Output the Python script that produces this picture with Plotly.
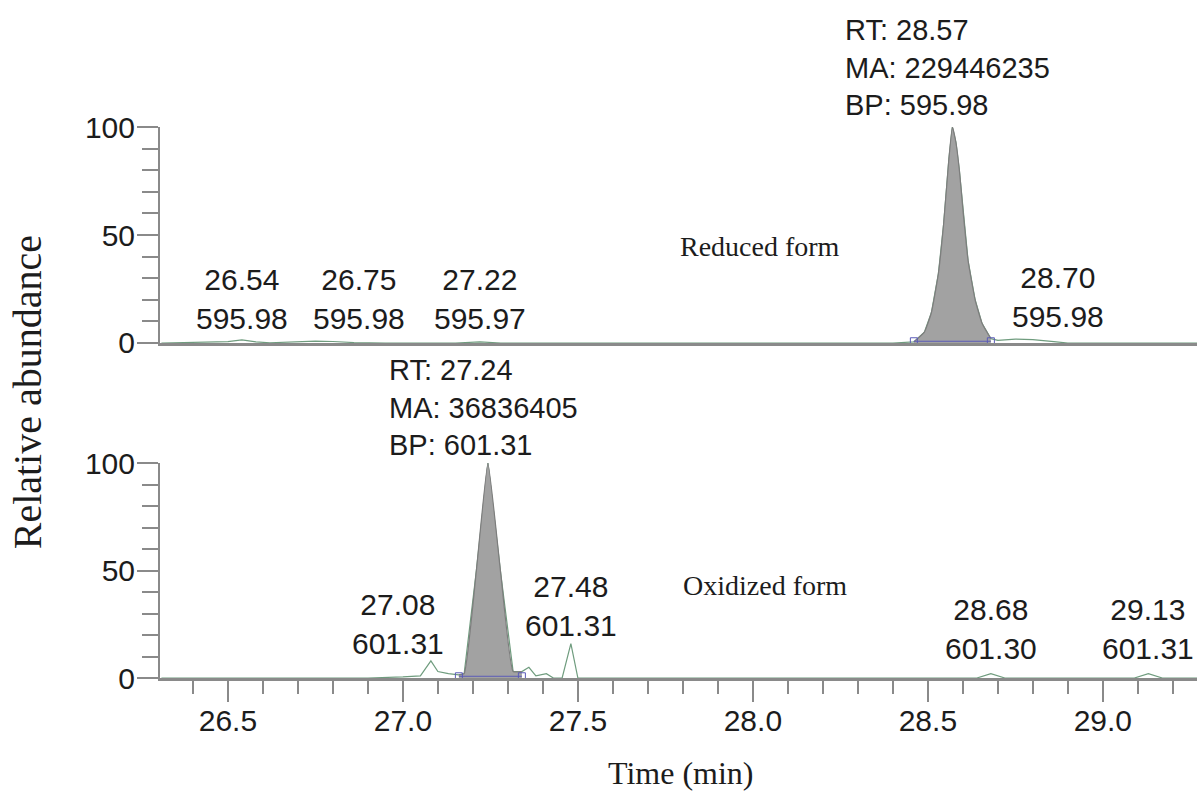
import plotly.graph_objects as go
from plotly.subplots import make_subplots

# ---------------- data ----------------
# Reduced form chromatogram (upper panel)
red_time = [26.31, 26.45, 26.50, 26.54, 26.58, 26.62, 26.70, 26.75, 26.80, 26.86, 26.95,
            27.15, 27.22, 27.28, 27.60, 28.00, 28.40, 28.46, 28.49, 28.51, 28.53, 28.545,
            28.56, 28.57, 28.58, 28.59, 28.60, 28.615, 28.635, 28.655, 28.68, 28.70, 28.75,
            28.80, 28.86, 28.90, 29.27]
red_abund = [0, 0.2, 0.6, 1.4, 0.5, 0.1, 0.4, 0.9, 0.7, 0.2, 0,
             0, 0.5, 0, 0, 0, 0, 0.5, 5, 14, 32, 55,
             85, 100, 93, 80, 62, 38, 20, 9, 2, 1.2, 1.8,
             1.6, 0.6, 0, 0]
red_peak_window = [28.46, 28.68]

# Oxidized form chromatogram (lower panel)
ox_time = [26.31, 26.90, 27.00, 27.05, 27.08, 27.10, 27.13, 27.16, 27.175, 27.21, 27.243,
           27.28, 27.315, 27.34, 27.36, 27.38, 27.41, 27.43, 27.455, 27.48, 27.50, 27.55,
           28.64, 28.68, 28.72, 29.09, 29.13, 29.17, 29.27]
ox_abund = [0, 0, 0.5, 1, 8, 3, 2, 1.5, 2, 50, 100,
            48, 3, 3, 5, 1, 2, 0, 0, 16, 0, 0,
            0, 2, 0, 0, 2, 0, 0]
ox_peak_window = [27.16, 27.34]

# peak labels (retention time / base peak m/z)
red_label_rt = [26.54, 26.75, 27.22, 28.70]
red_label_bp = ["595.98", "595.98", "595.97", "595.98"]
ox_label_rt = [27.08, 27.48, 28.68, 29.13]
ox_label_bp = ["601.31", "601.31", "601.30", "601.31"]

red_main = {"rt": 28.57, "ma": "229446235", "bp": "595.98"}
ox_main = {"rt": 27.24, "ma": "36836405", "bp": "601.31"}

x_tick_start, x_tick_step = 26.5, 0.5
y_ticks = [0, 50, 100]

# ---------------- styling ----------------
SANS = "Liberation Sans, Arial, sans-serif"
SERIF = "Liberation Serif, Times New Roman, serif"
AXIS_GRAY = "#8a8a8a"
TEXT = "#1c1c1c"
TRACE = "#6f9c7e"
FILL = "#a2a2a2"
FILL_EDGE = "#7d7d7d"
BLUE = "#5b5bb8"
XRANGE = [26.306, 29.269]

# label offsets (x in minutes, y shift in px) for the small labels
red_label_dx = [0.0, 0.124, 0.0, 0.171]
red_label_dy = [6, 6, 6, 8]
ox_label_dx = [-0.094, 0.0, 0.0, 0.0]
ox_label_dy = [16, 34, 11, 11]

fig = make_subplots(rows=2, cols=1)


def add_panel(row, t, a, window):
    fig.add_trace(go.Scatter(x=t, y=a, mode="lines",
                             line=dict(color=TRACE, width=1.2),
                             hoverinfo="skip", showlegend=False), row=row, col=1)
    pk_t = [ti for ti in t if window[0] <= ti <= window[1]]
    pk_a = [ai for ti, ai in zip(t, a) if window[0] <= ti <= window[1]]
    fig.add_trace(go.Scatter(x=pk_t, y=pk_a, mode="lines", fill="tozeroy",
                             fillcolor=FILL, line=dict(color=FILL_EDGE, width=1.2, shape="spline", smoothing=0.4),
                             hoverinfo="skip", showlegend=False, cliponaxis=False),
                  row=row, col=1)
    fig.add_trace(go.Scatter(x=window, y=[0.8, 0.8], mode="lines+markers",
                             line=dict(color=BLUE, width=1),
                             marker=dict(symbol="square-open", size=7,
                                         color=BLUE, line=dict(width=1)),
                             hoverinfo="skip", showlegend=False),
                  row=row, col=1)


add_panel(1, red_time, red_abund, red_peak_window)
add_panel(2, ox_time, ox_abund, ox_peak_window)

ann = []
for rt, bp, dx, dy in zip(red_label_rt, red_label_bp, red_label_dx, red_label_dy):
    ann.append(dict(x=rt + dx, y=0, xref="x", yref="y", text=f"{rt:.2f}<br>{bp}",
                    showarrow=False, xanchor="center", yanchor="bottom", yshift=dy,
                    font=dict(family=SANS, size=30, color=TEXT)))
for rt, bp, dx, dy in zip(ox_label_rt, ox_label_bp, ox_label_dx, ox_label_dy):
    ann.append(dict(x=rt + dx, y=0, xref="x2", yref="y2", text=f"{rt:.2f}<br>{bp}",
                    showarrow=False, xanchor="center", yanchor="bottom", yshift=dy,
                    font=dict(family=SANS, size=30, color=TEXT)))

ann.append(dict(x=red_main["rt"] - 0.313, y=100, xref="x", yref="y",
                text=f"RT: {red_main['rt']:.2f}<br>MA: {red_main['ma']}<br>BP: {red_main['bp']}",
                showarrow=False, xanchor="left", yanchor="bottom", align="left", yshift=4,
                font=dict(family=SANS, size=29, color=TEXT)))
ann.append(dict(x=ox_main["rt"] - 0.286, y=100, xref="x2", yref="y2",
                text=f"RT: {ox_main['rt']:.2f}<br>MA: {ox_main['ma']}<br>BP: {ox_main['bp']}",
                showarrow=False, xanchor="left", yanchor="bottom", align="left", yshift=0,
                font=dict(family=SANS, size=29, color=TEXT)))

ann.append(dict(x=0.579, y=0.784, xref="paper", yref="paper", text="Reduced form",
                xanchor="center", yanchor="middle",
                showarrow=False, font=dict(family=SERIF, size=28, color=TEXT)))
ann.append(dict(x=0.583, y=0.167, xref="paper", yref="paper", text="Oxidized form",
                xanchor="center", yanchor="middle",
                showarrow=False, font=dict(family=SERIF, size=28, color=TEXT)))
ann.append(dict(x=-0.128, y=0.519, xref="paper", yref="paper", text="Relative abundance",
                xanchor="center", yanchor="middle",
                textangle=-90, showarrow=False, font=dict(family=SERIF, size=40, color=TEXT)))
ann.append(dict(x=0.502, y=-0.172, xref="paper", yref="paper", text="Time (min)",
                xanchor="center", yanchor="middle",
                showarrow=False, font=dict(family=SERIF, size=32, color=TEXT)))

yax = dict(range=[0, 100], tickmode="array", tickvals=y_ticks, ticks="outside",
           ticklen=21, tickwidth=2, tickcolor=AXIS_GRAY, showline=True,
           linecolor=AXIS_GRAY, linewidth=2, showgrid=False, zeroline=False,
           ticklabelstandoff=-4,
           tickfont=dict(family=SANS, size=30, color=TEXT),
           minor=dict(tick0=0, dtick=10, ticks="outside", ticklen=16, tickwidth=2,
                      tickcolor=AXIS_GRAY, showgrid=False))

fig.update_layout(
    width=1197, height=794,
    margin=dict(l=160, r=0, t=127, b=116),
    paper_bgcolor="white", plot_bgcolor="white",
    showlegend=False,
    annotations=ann,
    xaxis=dict(domain=[0, 1], range=XRANGE, showline=True, linecolor=AXIS_GRAY,
               linewidth=3, ticks="", showticklabels=False, showgrid=False,
               zeroline=False),
    xaxis2=dict(domain=[0, 1], range=XRANGE, showline=True, linecolor=AXIS_GRAY,
                linewidth=3, ticks="outside", tick0=x_tick_start, dtick=x_tick_step,
                tickformat=".1f", ticklen=21, tickwidth=2, tickcolor=AXIS_GRAY,
                ticklabelstandoff=-7,
                showgrid=False, zeroline=False,
                tickfont=dict(family=SANS, size=30, color=TEXT),
                minor=dict(dtick=0.1, ticks="outside", ticklen=13, tickwidth=2,
                           tickcolor=AXIS_GRAY, showgrid=False)),
    yaxis=dict(domain=[0.608, 1.0], **yax),
    yaxis2=dict(domain=[0.0, 0.390], **yax),
)

fig.write_html("out.html")
